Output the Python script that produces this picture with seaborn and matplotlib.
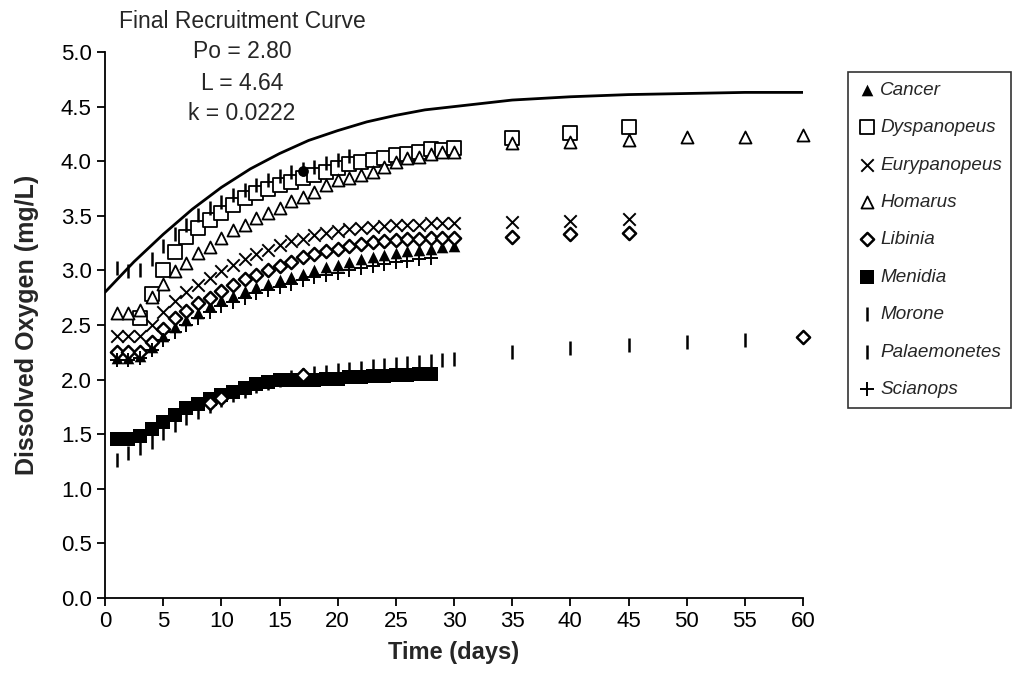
import matplotlib
matplotlib.use('Agg')
import matplotlib.pyplot as plt
import seaborn as sns

# fitted recruitment curve
curve_days = [0, 2.5, 5, 7.5, 10, 12.5, 15, 17.5, 20, 22.5, 25, 27.5, 30, 35, 40, 45, 50, 55, 60]
curve_vals = [2.80, 3.08, 3.33, 3.56, 3.76, 3.93, 4.07, 4.19, 4.28, 4.36, 4.42, 4.47, 4.50,
              4.56, 4.59, 4.61, 4.62, 4.63, 4.63]

days30 = list(range(1, 31))

cancer = [2.20, 2.20, 2.22, 2.30, 2.40, 2.48, 2.55, 2.61, 2.67, 2.73, 2.77, 2.81, 2.85, 2.88, 2.91,
          2.94, 2.97, 3.00, 3.03, 3.05, 3.08, 3.10, 3.12, 3.14, 3.16, 3.18, 3.19, 3.20, 3.21, 3.22]

dysp_days = list(range(3, 31)) + [35, 40, 45]
dysp = [2.56, 2.78, 3.00, 3.17, 3.31, 3.39, 3.46, 3.53, 3.60, 3.66, 3.71, 3.75, 3.78, 3.81, 3.85,
        3.87, 3.90, 3.94, 3.97, 3.99, 4.01, 4.03, 4.06, 4.07, 4.08, 4.11, 4.10, 4.12,
        4.21, 4.26, 4.31]

eury_days = days30 + [35, 40, 45]
eury = [2.40, 2.40, 2.40, 2.50, 2.62, 2.72, 2.80, 2.87, 2.93, 2.99, 3.05, 3.10, 3.15, 3.19, 3.23,
        3.27, 3.29, 3.32, 3.34, 3.36, 3.38, 3.39, 3.40, 3.41, 3.42, 3.42, 3.42, 3.43, 3.43, 3.43,
        3.44, 3.45, 3.47]

homa_days = days30 + [35, 40, 45, 50, 55, 60]
homa = [2.61, 2.61, 2.64, 2.76, 2.88, 2.99, 3.07, 3.16, 3.21, 3.30, 3.37, 3.42, 3.48, 3.53, 3.57,
        3.64, 3.67, 3.72, 3.78, 3.83, 3.85, 3.87, 3.90, 3.95, 3.99, 4.03, 4.04, 4.07, 4.08, 4.08,
        4.17, 4.18, 4.19, 4.22, 4.22, 4.24]

libi_days = days30 + [35, 40, 45]
libi = [2.25, 2.25, 2.25, 2.34, 2.46, 2.56, 2.63, 2.70, 2.75, 2.81, 2.87, 2.92, 2.96, 3.00, 3.04,
        3.08, 3.12, 3.15, 3.18, 3.20, 3.22, 3.24, 3.26, 3.27, 3.28, 3.29, 3.29, 3.30, 3.30, 3.30,
        3.31, 3.33, 3.34]

meni_days = list(range(1, 29))
meni = [1.46, 1.46, 1.48, 1.55, 1.61, 1.68, 1.74, 1.78, 1.82, 1.86, 1.89, 1.92, 1.96, 1.98, 2.00,
        2.00, 2.00, 2.00, 2.01, 2.01, 2.02, 2.02, 2.03, 2.03, 2.04, 2.04, 2.05, 2.05]

moro_days = list(range(1, 22))
moro = [3.02, 2.99, 3.00, 3.10, 3.22, 3.33, 3.42, 3.51, 3.57, 3.63, 3.69, 3.74, 3.78, 3.83, 3.86,
        3.90, 3.93, 3.95, 3.98, 4.01, 4.05]

pala_days = days30 + [35, 40, 45, 50, 55]
pala = [1.26, 1.33, 1.37, 1.43, 1.51, 1.58, 1.65, 1.70, 1.76, 1.81, 1.86, 1.90, 1.94, 1.97, 2.00,
        2.02, 2.04, 2.06, 2.07, 2.09, 2.10, 2.11, 2.12, 2.13, 2.14, 2.15, 2.16, 2.17, 2.18, 2.19,
        2.25, 2.29, 2.32, 2.34, 2.36]

scia_days = list(range(1, 29))
scia = [2.18, 2.18, 2.20, 2.27, 2.36, 2.44, 2.50, 2.56, 2.62, 2.67, 2.71, 2.75, 2.79, 2.82, 2.85,
        2.88, 2.91, 2.94, 2.96, 2.98, 3.00, 3.02, 3.04, 3.06, 3.08, 3.09, 3.10, 3.11]

# stray points drawn with other markers in the original
odd_diam_days = [9, 10, 17, 60]
odd_diam_vals = [1.79, 1.83, 2.04, 2.39]
odd_dot_days = [17]
odd_dot_vals = [3.91]

sns.set_style('ticks')
plt.rcParams['font.family'] = ['Liberation Sans', 'DejaVu Sans']

fig = plt.figure(figsize=(10.15, 6.87), dpi=100)
ax = fig.add_axes([105 / 1015, 89 / 687, 698 / 1015, 546 / 687])

sns.lineplot(x=curve_days, y=curve_vals, color='black', linewidth=2.0, ax=ax, legend=False)

k = dict(ax=ax, legend=False, clip_on=False)
sns.scatterplot(x=days30, y=cancer, marker='^', color='black', s=70, linewidth=0, label='Cancer', **k)
sns.scatterplot(x=dysp_days, y=dysp, marker='s', facecolor='white', edgecolor='black', s=95,
                linewidth=1.3, label='Dyspanopeus', **k)
sns.scatterplot(x=eury_days, y=eury, marker='x', color='black', s=80, linewidth=1.4,
                label='Eurypanopeus', **k)
sns.scatterplot(x=homa_days, y=homa, marker='^', facecolor='white', edgecolor='black', s=75,
                linewidth=1.3, label='Homarus', **k)
sns.scatterplot(x=libi_days, y=libi, marker='D', facecolor='white', edgecolor='black', s=45,
                linewidth=1.8, label='Libinia', **k)
sns.scatterplot(x=meni_days, y=meni, marker='s', color='black', s=95, linewidth=0, label='Menidia', **k)
sns.scatterplot(x=moro_days, y=moro, marker='|', color='black', s=110, linewidth=1.8, label='Morone', **k)
sns.scatterplot(x=pala_days, y=pala, marker='|', color='black', s=110, linewidth=1.8,
                label='Palaemonetes', **k)
sns.scatterplot(x=scia_days, y=scia, marker='+', color='black', s=90, linewidth=1.4, label='Scianops', **k)
sns.scatterplot(x=odd_diam_days, y=odd_diam_vals, marker='D', facecolor='white', edgecolor='black',
                s=45, linewidth=1.8, **k)
sns.scatterplot(x=odd_dot_days, y=odd_dot_vals, marker='o', color='black', s=60, linewidth=0, **k)

ax.set_xlim(0, 60)
ax.set_ylim(0, 5)
ax.set_xticks(range(0, 61, 5))
ax.set_yticks([i * 0.5 for i in range(11)])
ax.set_yticklabels([f'{i * 0.5:.1f}' for i in range(11)])
ax.tick_params(labelsize=16, length=6, width=1.3, direction='out', colors='black')
for sp in ['left', 'bottom']:
    ax.spines[sp].set_linewidth(1.3)
    ax.spines[sp].set_color('black')
sns.despine(ax=ax)
ax.set_xlabel('Time (days)', fontsize=17, fontweight='bold', labelpad=6)
ax.set_ylabel('Dissolved Oxygen (mg/L)', fontsize=18, fontweight='bold', labelpad=16)

tx = 242 / 1015
for txt, yy in [('Final Recruitment Curve', 22), ('Po = 2.80', 52), ('L = 4.64', 83), ('k = 0.0222', 114)]:
    fig.text(tx, 1 - yy / 687, txt, ha='center', va='center', fontsize=16.5)

handles, labels = ax.get_legend_handles_labels()
leg = fig.legend(handles, labels, loc='upper left', bbox_to_anchor=(848 / 1015, 1 - 72 / 687),
                 bbox_transform=fig.transFigure, borderaxespad=0, frameon=True, fancybox=False,
                 edgecolor='black', labelspacing=1.07, handletextpad=0.2,
                 handlelength=1.0, borderpad=0.5,
                 prop={'style': 'italic', 'size': 13.6})
leg.get_frame().set_linewidth(1.2)

fig.savefig('out.png', dpi=100)
